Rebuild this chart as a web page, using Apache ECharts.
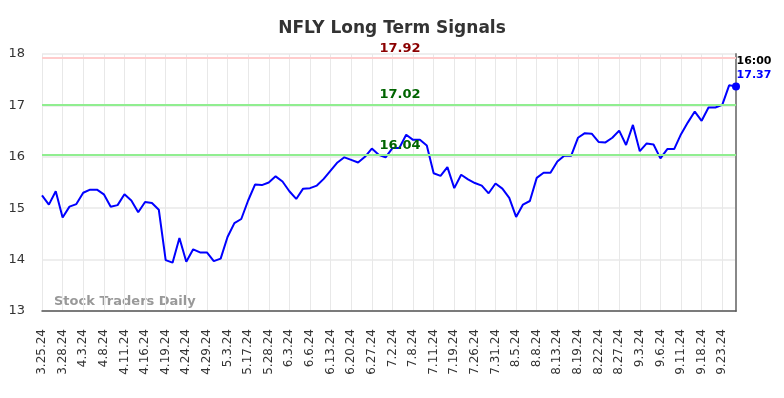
<!DOCTYPE html>
<html lang="en">
<head>
    <meta charset="UTF-8">
    <title>NFLY Long Term Signals</title>
    <script src="https://cdn.jsdelivr.net/npm/echarts@6/dist/echarts.min.js"></script>
    <style>
        html, body { margin: 0; padding: 0; background: #fff; }
        #chart { width: 784px; height: 398px; }
    </style>
</head>
<body>
    <div id="chart"></div>
    <script>
        // dates (labels every 3rd point)
        var dates = [
            '3.25.24', '3.26.24', '3.27.24', '3.28.24', '4.1.24', '4.2.24', '4.3.24', '4.4.24', '4.5.24', '4.8.24',
            '4.9.24', '4.10.24', '4.11.24', '4.12.24', '4.15.24', '4.16.24', '4.17.24', '4.18.24', '4.19.24', '4.22.24',
            '4.23.24', '4.24.24', '4.25.24', '4.26.24', '4.29.24', '5.1.24', '5.2.24', '5.3.24', '5.6.24', '5.15.24',
            '5.17.24', '5.20.24', '5.24.24', '5.28.24', '5.29.24', '5.31.24', '6.3.24', '6.4.24', '6.5.24', '6.6.24',
            '6.7.24', '6.11.24', '6.13.24', '6.14.24', '6.18.24', '6.20.24', '6.24.24', '6.26.24', '6.27.24', '6.28.24',
            '7.1.24', '7.2.24', '7.3.24', '7.5.24', '7.8.24', '7.9.24', '7.10.24', '7.11.24', '7.12.24', '7.16.24',
            '7.19.24', '7.22.24', '7.24.24', '7.26.24', '7.29.24', '7.30.24', '7.31.24', '8.1.24', '8.2.24', '8.5.24',
            '8.6.24', '8.7.24', '8.8.24', '8.9.24', '8.12.24', '8.13.24', '8.14.24', '8.16.24', '8.19.24', '8.20.24',
            '8.21.24', '8.22.24', '8.23.24', '8.26.24', '8.27.24', '8.28.24', '8.30.24', '9.3.24', '9.4.24', '9.5.24',
            '9.6.24', '9.9.24', '9.10.24', '9.11.24', '9.12.24', '9.16.24', '9.18.24', '9.19.24', '9.20.24', '9.23.24',
            '9.24.24', '9.25.24'
        ];

        // closing prices
        var prices = [
            15.25, 15.07, 15.33, 14.82, 15.03, 15.08, 15.30, 15.36, 15.36, 15.27,
            15.03, 15.06, 15.27, 15.15, 14.92, 15.12, 15.10, 14.97, 13.99, 13.94,
            14.42, 13.96, 14.20, 14.14, 14.14, 13.97, 14.02, 14.44, 14.71, 14.79,
            15.15, 15.46, 15.45, 15.50, 15.62, 15.52, 15.33, 15.18, 15.38, 15.39,
            15.44, 15.57, 15.73, 15.89, 15.99, 15.94, 15.89, 16.00, 16.16, 16.04,
            15.99, 16.17, 16.17, 16.43, 16.33, 16.33, 16.22, 15.68, 15.63, 15.80,
            15.39, 15.65, 15.56, 15.49, 15.44, 15.29, 15.48, 15.38, 15.20, 14.83,
            15.07, 15.14, 15.59, 15.69, 15.69, 15.91, 16.02, 16.02, 16.37, 16.46,
            16.45, 16.29, 16.28, 16.37, 16.51, 16.23, 16.62, 16.11, 16.26, 16.24,
            15.97, 16.15, 16.15, 16.44, 16.67, 16.88, 16.70, 16.96, 16.96, 17.01,
            17.39, 17.37
        ];

        // signal levels
        var resistance = 17.92;
        var supports = [17.02, 16.04];
        var lastTime = '16:00';

        var chart = echarts.init(document.getElementById('chart'));
        var font = 'DejaVu Sans';
        var lastIdx = prices.length - 1;

        var levelLabel = function (color) {
            return {
                show: true,
                position: 'middle',
                formatter: '{c}',
                color: color,
                fontFamily: font,
                fontWeight: 'bold',
                fontSize: 13,
                padding: [0, 0, 0, 22],
                distance: 3
            };
        };

        var option = {
            animation: false,
            title: {
                text: 'NFLY Long Term Signals',
                left: 'center',
                top: 15,
                textStyle: { fontFamily: font, fontSize: 17, fontWeight: 'bold', color: '#333' }
            },
            grid: { left: 42, right: 48, top: 54, bottom: 87 },
            xAxis: {
                type: 'category',
                data: dates,
                boundaryGap: false,
                axisLine: { lineStyle: { color: '#555', width: 1.5 } },
                axisTick: { show: false },
                axisLabel: {
                    interval: 2,
                    rotate: 90,
                    fontFamily: font,
                    fontSize: 12,
                    color: '#333',
                    margin: 18
                },
                splitLine: { show: true, interval: 2, lineStyle: { color: '#e8e8e8' } }
            },
            yAxis: [{
                type: 'value',
                min: 13,
                max: 18,
                interval: 1,
                axisLine: { show: false },
                axisTick: { show: false },
                axisLabel: { fontFamily: font, fontSize: 13, color: '#333', margin: 17 },
                splitLine: { lineStyle: { color: '#e8e8e8', width: 1.5 } }
            }, {
                type: 'value',
                position: 'right',
                min: 13,
                max: 18,
                axisLine: { show: true, lineStyle: { color: '#888', width: 2 } },
                axisTick: { show: false },
                axisLabel: { show: false },
                splitLine: { show: false }
            }],
            graphic: [{
                type: 'text',
                left: 54,
                top: 295,
                style: { text: 'Stock Traders Daily', fill: '#999', font: 'bold 13px "DejaVu Sans"' }
            }],
            series: [{
                type: 'line',
                data: prices,
                showSymbol: false,
                lineStyle: { color: '#0000ff', width: 2 },
                itemStyle: { color: '#0000ff' },
                markLine: {
                    silent: true,
                    symbol: 'none',
                    data: [
                        { yAxis: resistance, lineStyle: { color: '#ffcccc', width: 2, type: 'solid' }, label: levelLabel('#8b0000') },
                        { yAxis: supports[0], lineStyle: { color: '#90ee90', width: 2, type: 'solid' }, label: levelLabel('#006400') },
                        { yAxis: supports[1], lineStyle: { color: '#90ee90', width: 2, type: 'solid' }, label: levelLabel('#006400') }
                    ]
                },
                markPoint: {
                    silent: true,
                    symbol: 'circle',
                    symbolSize: 8,
                    itemStyle: { color: '#0000ff' },
                    label: {
                        show: true,
                        position: 'top',
                        distance: 4,
                        offset: [18, 4],
                        formatter: function (p) {
                            return '{t|' + lastTime + '}\n{v|' + p.value.toFixed(2) + '}';
                        },
                        rich: {
                            t: { color: '#000', fontFamily: font, fontWeight: 'bold', fontSize: 11, lineHeight: 14 },
                            v: { color: '#0000ff', fontFamily: font, fontWeight: 'bold', fontSize: 11, lineHeight: 14 }
                        }
                    },
                    data: [{ coord: [lastIdx, prices[lastIdx]], value: prices[lastIdx] }]
                }
            }]
        };

        chart.setOption(option);
    </script>
</body>
</html>
